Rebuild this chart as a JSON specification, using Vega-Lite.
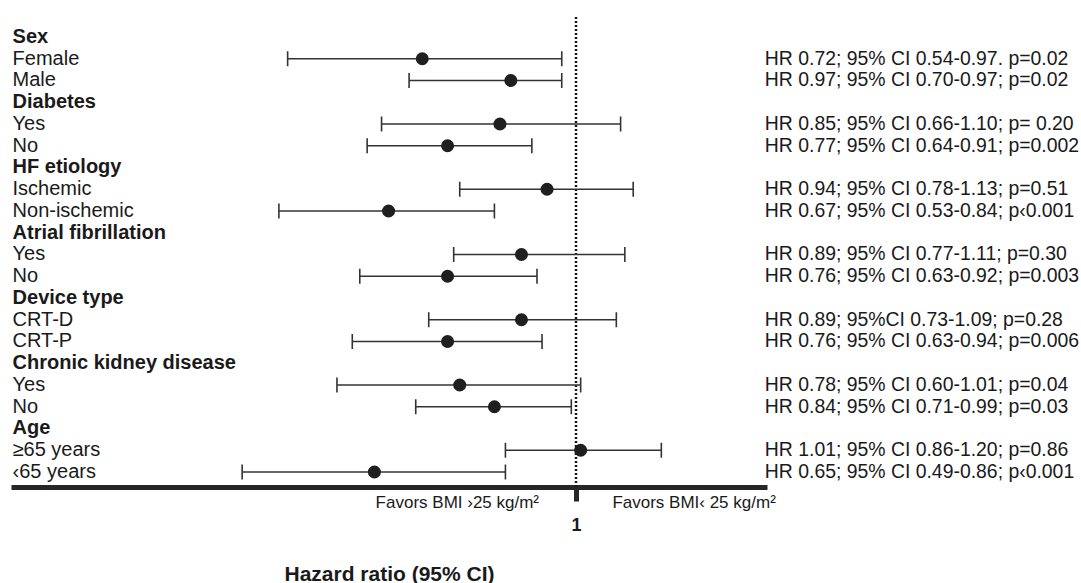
{
  "$schema": "https://vega.github.io/schema/vega-lite/v6.json",
  "width": 756,
  "height": 487,
  "autosize": "none",
  "padding": {"left": 11, "top": 0, "right": 314, "bottom": 96},
  "background": "white",
  "config": {
    "view": {"stroke": null},
    "font": "Liberation Sans",
    "text": {"font": "Liberation Sans", "color": "#1a1a1a"}
  },
  "datasets": {
    "rows": [
      {"row": 0, "label": "Sex", "header": true},
      {"row": 1, "label": "Female", "header": false, "hr": 0.72, "lo": 0.54, "hi": 0.97, "stat": "HR 0.72; 95% CI 0.54-0.97. p=0.02"},
      {"row": 2, "label": "Male", "header": false, "hr": 0.87, "lo": 0.70, "hi": 0.97, "stat": "HR 0.97; 95% CI 0.70-0.97; p=0.02"},
      {"row": 3, "label": "Diabetes", "header": true},
      {"row": 4, "label": "Yes", "header": false, "hr": 0.85, "lo": 0.66, "hi": 1.10, "stat": "HR 0.85; 95% CI 0.66-1.10; p= 0.20"},
      {"row": 5, "label": "No", "header": false, "hr": 0.76, "lo": 0.64, "hi": 0.91, "stat": "HR 0.77; 95% CI 0.64-0.91; p=0.002"},
      {"row": 6, "label": "HF etiology", "header": true},
      {"row": 7, "label": "Ischemic", "header": false, "hr": 0.94, "lo": 0.78, "hi": 1.13, "stat": "HR 0.94; 95% CI 0.78-1.13; p=0.51"},
      {"row": 8, "label": "Non-ischemic", "header": false, "hr": 0.67, "lo": 0.53, "hi": 0.84, "stat": "HR 0.67; 95% CI 0.53-0.84; p‹0.001"},
      {"row": 9, "label": "Atrial fibrillation", "header": true},
      {"row": 10, "label": "Yes", "header": false, "hr": 0.89, "lo": 0.77, "hi": 1.11, "stat": "HR 0.89; 95% CI 0.77-1.11; p=0.30"},
      {"row": 11, "label": "No", "header": false, "hr": 0.76, "lo": 0.63, "hi": 0.92, "stat": "HR 0.76; 95% CI 0.63-0.92; p=0.003"},
      {"row": 12, "label": "Device type", "header": true},
      {"row": 13, "label": "CRT-D", "header": false, "hr": 0.89, "lo": 0.73, "hi": 1.09, "stat": "HR 0.89; 95%CI 0.73-1.09; p=0.28"},
      {"row": 14, "label": "CRT-P", "header": false, "hr": 0.76, "lo": 0.62, "hi": 0.93, "stat": "HR 0.76; 95% CI 0.63-0.94; p=0.006"},
      {"row": 15, "label": "Chronic kidney disease", "header": true},
      {"row": 16, "label": "Yes", "header": false, "hr": 0.78, "lo": 0.60, "hi": 1.01, "stat": "HR 0.78; 95% CI 0.60-1.01; p=0.04"},
      {"row": 17, "label": "No", "header": false, "hr": 0.84, "lo": 0.71, "hi": 0.99, "stat": "HR 0.84; 95% CI 0.71-0.99; p=0.03"},
      {"row": 18, "label": "Age", "header": true},
      {"row": 19, "label": "≥65 years", "header": false, "hr": 1.01, "lo": 0.86, "hi": 1.20, "stat": "HR 1.01; 95% CI 0.86-1.20; p=0.86"},
      {"row": 20, "label": "‹65 years", "header": false, "hr": 0.65, "lo": 0.49, "hi": 0.86, "stat": "HR 0.65; 95% CI 0.49-0.86; p‹0.001"}
    ],
    "one": [{"note": "single"}]
  },
  "layer": [
    {
      "data": {"name": "one"},
      "mark": {"type": "rule", "strokeDash": [2, 2], "strokeWidth": 2.5, "color": "#1a1a1a"},
      "encoding": {
        "x": {
          "datum": 1, "type": "quantitative",
          "scale": {"type": "log", "domain": [0.299, 1.504], "nice": false},
          "axis": {
            "values": [1], "format": ".0f", "grid": false,
            "domainWidth": 5, "domainColor": "#262626",
            "tickSize": 14, "tickWidth": 5, "tickColor": "#262626",
            "labelFont": "Liberation Sans", "labelFontSize": 18, "labelFontWeight": "bold", "labelColor": "#1a1a1a", "labelPadding": 15,
            "title": "Hazard ratio (95% CI)", "titleFont": "Liberation Sans", "titleFontSize": 21, "titleFontWeight": "bold", "titleColor": "#1a1a1a",
            "titleX": 378, "titleY": 93, "titleAlign": "center", "titleBaseline": "alphabetic", "titleAnchor": "start"
          }
        },
        "y": {
          "datum": -0.92, "type": "quantitative",
          "scale": {"domain": [-1.701, 20.69], "reverse": true, "nice": false, "zero": false},
          "axis": null
        },
        "y2": {"datum": 20.69}
      }
    },
    {
      "data": {"name": "rows"},
      "transform": [{"filter": "!datum.header"}],
      "mark": {"type": "rule", "strokeWidth": 1.6, "color": "#333333"},
      "encoding": {
        "x": {"field": "lo", "type": "quantitative"},
        "x2": {"field": "hi"},
        "y": {"field": "row", "type": "quantitative", "axis": null}
      }
    },
    {
      "data": {"name": "rows"},
      "transform": [{"filter": "!datum.header"}],
      "mark": {"type": "tick", "orient": "vertical", "size": 15, "thickness": 1.6, "color": "#333333", "opacity": 1},
      "encoding": {
        "x": {"field": "lo", "type": "quantitative"},
        "y": {"field": "row", "type": "quantitative", "axis": null}
      }
    },
    {
      "data": {"name": "rows"},
      "transform": [{"filter": "!datum.header"}],
      "mark": {"type": "tick", "orient": "vertical", "size": 15, "thickness": 1.6, "color": "#333333", "opacity": 1},
      "encoding": {
        "x": {"field": "hi", "type": "quantitative"},
        "y": {"field": "row", "type": "quantitative", "axis": null}
      }
    },
    {
      "data": {"name": "rows"},
      "transform": [{"filter": "!datum.header"}],
      "mark": {"type": "circle", "size": 170, "color": "#1f1f1f", "opacity": 1},
      "encoding": {
        "x": {"field": "hr", "type": "quantitative"},
        "y": {"field": "row", "type": "quantitative", "axis": null}
      }
    },
    {
      "data": {"name": "rows"},
      "transform": [{"filter": "datum.header"}],
      "mark": {"type": "text", "align": "left", "baseline": "middle", "fontSize": 20, "fontWeight": "bold"},
      "encoding": {
        "x": {"datum": 0.3, "type": "quantitative"},
        "y": {"field": "row", "type": "quantitative", "axis": null},
        "text": {"field": "label"}
      }
    },
    {
      "data": {"name": "rows"},
      "transform": [{"filter": "!datum.header"}],
      "mark": {"type": "text", "align": "left", "baseline": "middle", "fontSize": 20},
      "encoding": {
        "x": {"datum": 0.3, "type": "quantitative"},
        "y": {"field": "row", "type": "quantitative", "axis": null},
        "text": {"field": "label"}
      }
    },
    {
      "data": {"name": "rows"},
      "transform": [{"filter": "!datum.header"}],
      "mark": {"type": "text", "align": "left", "baseline": "middle", "fontSize": 19.4},
      "encoding": {
        "x": {"datum": 1.497, "type": "quantitative"},
        "y": {"field": "row", "type": "quantitative", "axis": null},
        "text": {"field": "stat"}
      }
    },
    {
      "data": {"name": "one"},
      "mark": {"type": "text", "align": "center", "baseline": "middle", "fontSize": 17},
      "encoding": {
        "x": {"datum": 0.776, "type": "quantitative"},
        "y": {"datum": 21.43, "type": "quantitative", "axis": null},
        "text": {"value": "Favors BMI ›25 kg/m²"}
      }
    },
    {
      "data": {"name": "one"},
      "mark": {"type": "text", "align": "center", "baseline": "middle", "fontSize": 17},
      "encoding": {
        "x": {"datum": 1.287, "type": "quantitative"},
        "y": {"datum": 21.43, "type": "quantitative", "axis": null},
        "text": {"value": "Favors BMI‹ 25 kg/m²"}
      }
    }
  ]
}
